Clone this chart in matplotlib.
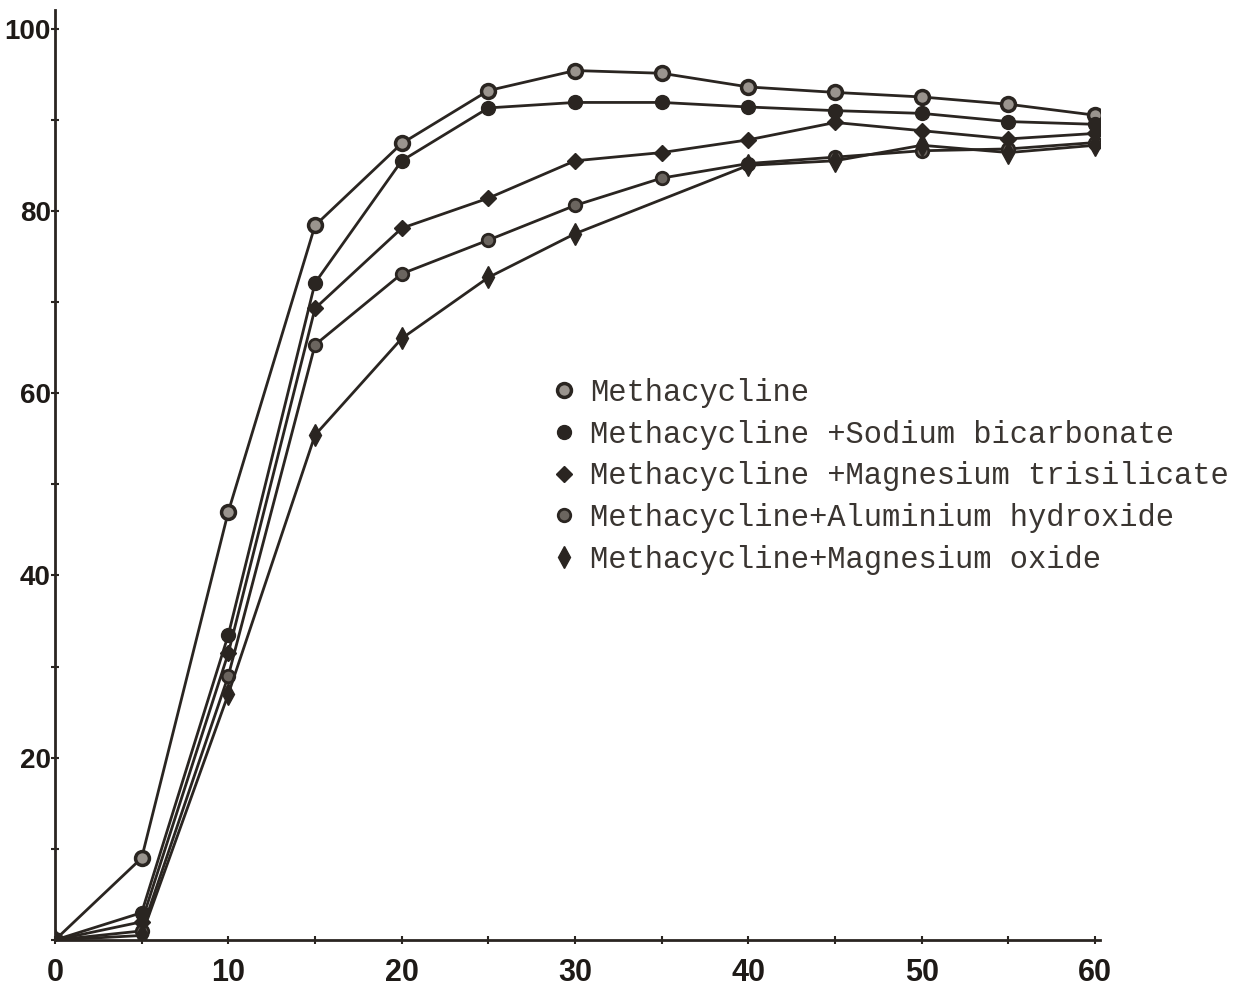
import matplotlib
matplotlib.use("Agg")
import matplotlib.pyplot as plt
from matplotlib.lines import Line2D
from matplotlib.ticker import MultipleLocator

# ---- data ----
time_min = [0, 5, 10, 15, 20, 25, 30, 35, 40, 45, 50, 55, 60]
methacycline = [0, 9.0, 47.0, 78.4, 87.4, 93.2, 95.4, 95.1, 93.6, 93.0, 92.5, 91.7, 90.5]
sodium_bicarbonate = [0, 3.0, 33.5, 72.1, 85.5, 91.3, 91.9, 91.9, 91.4, 91.0, 90.7, 89.8, 89.5]
magnesium_trisilicate = [0, 2.0, 31.5, 69.3, 78.1, 81.4, 85.5, 86.4, 87.8, 89.7, 88.8, 87.9, 88.5]
aluminium_hydroxide = [0, 1.0, 29.0, 65.3, 73.1, 76.8, 80.6, 83.6, 85.2, 85.9, 86.6, 86.8, 87.5]
magnesium_oxide_t = [0, 5, 10, 15, 20, 25, 30, 40, 45, 50, 55, 60]
magnesium_oxide = [0, 0.5, 27.0, 55.4, 66.0, 72.7, 77.5, 85.0, 85.5, 87.2, 86.4, 87.2]

labels = ["Methacycline",
          "Methacycline +Sodium bicarbonate",
          "Methacycline +Magnesium trisilicate",
          "Methacycline+Aluminium hydroxide",
          "Methacycline+Magnesium oxide"]
x_ticks = [0, 10, 20, 30, 40, 50, 60]
y_ticks = [20, 40, 60, 80, 100]

ink = "#2a2521"

fig = plt.figure(figsize=(12.58, 9.89), dpi=100)
ax = fig.add_axes([0.0437, 0.0495, 0.831, 0.94])

series = [
    (time_min, methacycline, dict(marker="o", mfc="#9a948e", mec=ink, ms=10, mew=2.5)),
    (time_min, sodium_bicarbonate, dict(marker="o", mfc=ink, mec=ink, ms=10)),
    (time_min, magnesium_trisilicate, dict(marker="D", mfc=ink, mec=ink, ms=8)),
    (time_min, aluminium_hydroxide, dict(marker="o", mfc="#6b655f", mec=ink, ms=9, mew=2)),
    (magnesium_oxide_t, magnesium_oxide, dict(marker="d", mfc=ink, mec=ink, ms=11)),
]
for (t, v, st), lab in zip(series, labels):
    ax.plot(t, v, color=ink, lw=2.0, label=lab, **st)

ax.set_xlim(0, 60.3)
ax.set_ylim(0, 102)
for s in ["top", "right"]:
    ax.spines[s].set_visible(False)
for s in ["left", "bottom"]:
    ax.spines[s].set_color(ink)
    ax.spines[s].set_linewidth(2.0)

ax.set_xticks(x_ticks)
ax.xaxis.set_minor_locator(MultipleLocator(5))
ax.set_yticks(y_ticks)
ax.yaxis.set_minor_locator(MultipleLocator(10))
ax.tick_params(which="both", direction="inout", length=6, width=1.5, color=ink)
ax.tick_params(axis="y", pad=0)
ax.tick_params(axis="x", pad=10)

for lbl in ax.get_xticklabels() + ax.get_yticklabels():
    lbl.set_fontfamily(["Liberation Sans", "DejaVu Sans"])
    lbl.set_fontweight("bold")
    lbl.set_fontsize(20)
    lbl.set_color("#1e1a17")
for lbl in ax.get_xticklabels():
    lbl.set_fontsize(22)

handles = [Line2D([], [], linestyle="none", color=ink, **st) for (_, _, st) in series]
leg = ax.legend(handles, labels, loc="upper left", bbox_to_anchor=(0.452, 0.634),
                frameon=False, handlelength=0.6, handletextpad=0.55, labelspacing=0.38,
                prop=dict(family=["Liberation Mono", "DejaVu Sans Mono"], size=22))
for txt in leg.get_texts():
    txt.set_color("#3a3531")

fig.savefig("out.png", dpi=100, facecolor="white")
